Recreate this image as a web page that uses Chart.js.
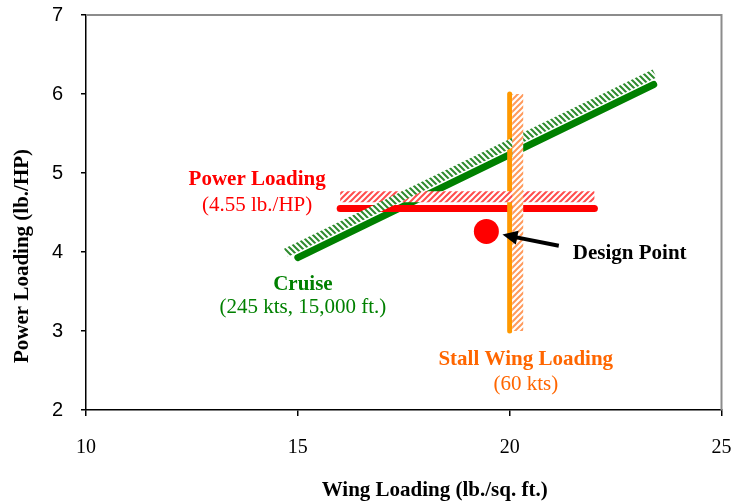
<!DOCTYPE html>
<html>
<head>
<meta charset="utf-8">
<script src="https://cdn.jsdelivr.net/npm/chart.js@4.4.0/dist/chart.umd.min.js"></script>
<style>
  html, body { margin: 0; padding: 0; background: #fff; }
  #caixa { width: 734px; height: 503px; }
</style>
</head>
<body>
<div id="caixa"><canvas id="grafico"></canvas></div>
<script>
// Eixos
const ticksX = [10, 15, 20, 25];
const ticksY = [2, 3, 4, 5, 6, 7];

// Cruzeiro (245 kts, 15,000 ft.)
const cruiseX = [15, 23.4];
const cruiseY = [3.93, 6.12];
const cruiseHachuraX = [14.72, 23.42];
const cruiseHachuraY = [3.99, 6.26];

// Power loading (4.55 lb./HP)
const potenciaX = [16, 22];
const potenciaY = [4.55, 4.55];
const potenciaHachuraX = [16, 22];
const potenciaHachuraY = [4.70, 4.70];

// Stall wing loading (60 kts)
const stallX = [20, 20];
const stallY = [3, 6];
const stallHachuraX = [20.19, 20.19];
const stallHachuraY = [3, 6];

// Ponto de projeto
const projetoX = [19.45];
const projetoY = [4.26];

function pontos(xs, ys) {
  return xs.map((x, i) => ({ x: x, y: ys[i] }));
}

// Padrão listrado para as faixas hachuradas
function hachura(cor, invertida) {
  const c = document.createElement('canvas');
  c.width = 6; c.height = 6;
  const g = c.getContext('2d');
  g.fillStyle = '#fff';
  g.fillRect(0, 0, 6, 6);
  g.strokeStyle = cor;
  g.lineWidth = 2;
  g.beginPath();
  if (invertida) {
    g.moveTo(0, 0); g.lineTo(6, 6);
    g.moveTo(5, -1); g.lineTo(7, 1);
    g.moveTo(-1, 5); g.lineTo(1, 7);
  } else {
    g.moveTo(0, 6); g.lineTo(6, 0);
    g.moveTo(-1, 1); g.lineTo(1, -1);
    g.moveTo(5, 7); g.lineTo(7, 5);
  }
  g.stroke();
  return g.createPattern(c, 'repeat');
}

const serif = 'Liberation Serif';

// Textos soltos dentro do gráfico (posição em unidades dos eixos)
const rotulos = [
  { texto: 'Power Loading', x: 14.04, y: 4.915, cor: '#ff0000', negrito: true, alinhar: 'center' },
  { texto: '(4.55 lb./HP)', x: 14.04, y: 4.595, cor: '#ff0000', negrito: false, alinhar: 'center' },
  { texto: 'Cruise', x: 15.12, y: 3.585, cor: '#008000', negrito: true, alinhar: 'center' },
  { texto: '(245 kts, 15,000 ft.)', x: 15.12, y: 3.295, cor: '#008000', negrito: false, alinhar: 'center' },
  { texto: 'Stall Wing Loading', x: 20.38, y: 2.635, cor: '#ff6600', negrito: true, alinhar: 'center' },
  { texto: '(60 kts)', x: 20.38, y: 2.325, cor: '#ff6600', negrito: false, alinhar: 'center' },
  { texto: 'Design Point', x: 21.49, y: 3.975, cor: '#000', negrito: true, alinhar: 'left' }
];

const seta = { de: { x: 21.16, y: 4.08 }, para: { x: 19.83, y: 4.22 } };

const anotacoes = {
  id: 'anotacoes',
  afterDatasetsDraw(chart) {
    const ctx = chart.ctx;
    const a = chart.chartArea;
    const sx = chart.scales.x;
    const sy = chart.scales.y;

    // Bordas cinza em cima e à direita
    ctx.save();
    ctx.strokeStyle = '#8c8c8c';
    ctx.lineWidth = 2;
    ctx.beginPath();
    ctx.moveTo(a.left, a.top);
    ctx.lineTo(a.right, a.top);
    ctx.lineTo(a.right, a.bottom);
    ctx.stroke();

    // Seta apontando para o ponto de projeto
    const x1 = sx.getPixelForValue(seta.de.x), y1 = sy.getPixelForValue(seta.de.y);
    const x2 = sx.getPixelForValue(seta.para.x), y2 = sy.getPixelForValue(seta.para.y);
    const ang = Math.atan2(y2 - y1, x2 - x1);
    const cab = 15;
    ctx.strokeStyle = '#000';
    ctx.fillStyle = '#000';
    ctx.lineWidth = 4;
    ctx.beginPath();
    ctx.moveTo(x1, y1);
    ctx.lineTo(x2 - Math.cos(ang) * (cab - 2), y2 - Math.sin(ang) * (cab - 2));
    ctx.stroke();
    ctx.beginPath();
    ctx.moveTo(x2, y2);
    ctx.lineTo(x2 - cab * Math.cos(ang) + 7 * Math.sin(ang), y2 - cab * Math.sin(ang) - 7 * Math.cos(ang));
    ctx.lineTo(x2 - cab * Math.cos(ang) - 7 * Math.sin(ang), y2 - cab * Math.sin(ang) + 7 * Math.cos(ang));
    ctx.closePath();
    ctx.fill();

    // Rótulos
    ctx.textBaseline = 'middle';
    rotulos.forEach(function (r) {
      ctx.font = (r.negrito ? 'bold ' : '') + '21px "' + serif + '"';
      ctx.fillStyle = r.cor;
      ctx.textAlign = r.alinhar;
      ctx.fillText(r.texto, sx.getPixelForValue(r.x), sy.getPixelForValue(r.y));
    });

    // Títulos dos eixos
    ctx.fillStyle = '#000';
    ctx.font = 'bold 21px "' + serif + '"';
    ctx.textAlign = 'center';
    ctx.fillText('Wing Loading (lb./sq. ft.)', sx.getPixelForValue(18.23), 491);
    ctx.translate(23, sy.getPixelForValue(3.95));
    ctx.rotate(-Math.PI / 2);
    ctx.fillText('Power Loading (lb./HP)', 0, 0);
    ctx.restore();
  }
};

function linha(dados, cor, largura, ponta, ordem) {
  return {
    data: dados,
    showLine: true,
    borderColor: cor,
    borderWidth: largura,
    borderCapStyle: ponta,
    pointRadius: 0,
    fill: false,
    order: ordem
  };
}

// Tamanho fixo dos eixos, sem folga extra pelos rótulos
function fixarEixo(s, tamanho) {
  if (s.isHorizontal()) { s.height = tamanho; } else { s.width = tamanho; }
  s.paddingTop = 0;
  s.paddingBottom = 0;
  s.paddingLeft = 0;
  s.paddingRight = 0;
}

const config = {
  type: 'scatter',
  data: {
    datasets: [
      { data: pontos(projetoX, projetoY), pointRadius: 12.5, pointBackgroundColor: '#ff0000', pointBorderWidth: 0, order: 0 },
      linha(pontos(stallHachuraX, stallHachuraY), hachura('#ff9a5c', false), 11, 'butt', 1),
      linha(pontos(cruiseHachuraX, cruiseHachuraY), hachura('#2e8b2e', true), 9, 'butt', 2),
      linha(pontos(potenciaHachuraX, potenciaHachuraY), hachura('#ff4d4d', false), 11, 'butt', 3),
      linha(pontos(stallX, stallY), '#ff9900', 5, 'round', 4),
      linha(pontos(potenciaX, potenciaY), '#ff0000', 7, 'round', 5),
      linha(pontos(cruiseX, cruiseY), '#008000', 7, 'round', 6)
    ]
  },
  options: {
    responsive: true,
    maintainAspectRatio: false,
    animation: false,
    layout: { padding: { top: 15, right: 11, left: 0, bottom: 0 } },
    plugins: { legend: { display: false }, tooltip: { enabled: false } },
    scales: {
      x: {
        type: 'linear',
        min: ticksX[0],
        max: ticksX[ticksX.length - 1],
        afterBuildTicks: function (s) { s.ticks = ticksX.map(v => ({ value: v })); },
        ticks: { color: '#000', padding: 20, font: { family: serif, size: 20 } },
        grid: { drawOnChartArea: false, tickLength: 6, color: '#000', lineWidth: 1.5 },
        border: { color: '#000', width: 1.5 },
        afterFit: function (s) { fixarEixo(s, 93); }
      },
      y: {
        type: 'linear',
        min: ticksY[0],
        max: ticksY[ticksY.length - 1],
        afterBuildTicks: function (s) { s.ticks = ticksY.map(v => ({ value: v })); },
        ticks: { color: '#000', padding: 18, font: { family: 'Liberation Sans', size: 20 } },
        grid: { drawOnChartArea: false, tickLength: 5, color: '#000', lineWidth: 1.5 },
        border: { color: '#000', width: 1.5 },
        afterFit: function (s) { fixarEixo(s, 86); }
      }
    }
  },
  plugins: [anotacoes]
};

let myChart = new Chart(document.getElementById('grafico'), config);
</script>
</body>
</html>
